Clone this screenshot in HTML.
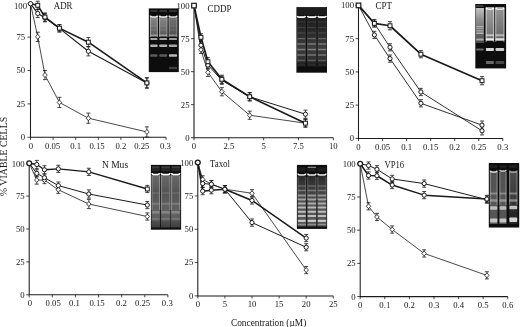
<!DOCTYPE html><html><head><meta charset="utf-8"><style>html,body{margin:0;padding:0;background:#fff;}svg{display:block;}</style></head><body>
<svg width="520" height="327" viewBox="0 0 520 327" font-family='"Liberation Serif", serif' fill="#1a1a1a">
<defs><filter id="bl" x="-5%" y="-5%" width="110%" height="110%"><feGaussianBlur stdDeviation="0.35"/></filter><filter id="gb" x="-5%" y="-5%" width="110%" height="110%"><feGaussianBlur stdDeviation="0.85"/></filter></defs>
<rect width="520" height="327" fill="#fff"/>
<filter id="gf1" x="-10%" y="-10%" width="120%" height="120%"><feGaussianBlur stdDeviation="0.65"/></filter>
<g filter="url(#gf1)">
<rect x="148.8" y="8.4" width="30" height="63.7" fill="#0d0d0d"/>
<linearGradient id="gr1" x1="0" y1="0" x2="0" y2="1"><stop offset="0" stop-color="#fff" stop-opacity="0.5"/><stop offset="0.5" stop-color="#fff" stop-opacity="0.4"/><stop offset="1" stop-color="#fff" stop-opacity="0.3"/></linearGradient>
<rect x="149.9" y="17.5" width="8" height="19.5" fill="url(#gr1)"/>
<rect x="149.9" y="16" width="1.1" height="21" fill="#fff" fill-opacity="0.3"/>
<rect x="156.8" y="16" width="1.1" height="21" fill="#fff" fill-opacity="0.3"/>
<rect x="150.2" y="10.5" width="7.4" height="1" rx="0.8" fill="#fff" fill-opacity="0.3"/>
<rect x="150.2" y="25.25" width="7.4" height="1.5" rx="0.8" fill="#fff" fill-opacity="0.08"/>
<rect x="150.2" y="29.25" width="7.4" height="1.5" rx="0.8" fill="#fff" fill-opacity="0.08"/>
<rect x="150.2" y="34.45" width="7.4" height="1.5" rx="0.8" fill="#fff" fill-opacity="0.4"/>
<rect x="150.2" y="38.1" width="7.4" height="2" rx="0.8" fill="#fff" fill-opacity="0.62"/>
<rect x="150.2" y="44.45" width="7.4" height="2.5" rx="0.8" fill="#fff" fill-opacity="0.68"/>
<rect x="150.2" y="54.35" width="7.4" height="2.5" rx="0.8" fill="#fff" fill-opacity="0.32"/>
<path d="M150.4 15.6Q150.6 17 152.1 17H155.7Q157.2 17 157.4 15.6" fill="none" stroke="#fff" stroke-opacity="0.95" stroke-width="1.7"/>
<linearGradient id="gr2" x1="0" y1="0" x2="0" y2="1"><stop offset="0" stop-color="#fff" stop-opacity="0.5"/><stop offset="0.5" stop-color="#fff" stop-opacity="0.4"/><stop offset="1" stop-color="#fff" stop-opacity="0.3"/></linearGradient>
<rect x="159" y="17.5" width="8.5" height="19.5" fill="url(#gr2)"/>
<rect x="159" y="16" width="1.1" height="21" fill="#fff" fill-opacity="0.3"/>
<rect x="166.4" y="16" width="1.1" height="21" fill="#fff" fill-opacity="0.3"/>
<rect x="159.3" y="10.5" width="7.9" height="1" rx="0.8" fill="#fff" fill-opacity="0.3"/>
<rect x="159.3" y="25.25" width="7.9" height="1.5" rx="0.8" fill="#fff" fill-opacity="0.08"/>
<rect x="159.3" y="29.25" width="7.9" height="1.5" rx="0.8" fill="#fff" fill-opacity="0.08"/>
<rect x="159.3" y="34.45" width="7.9" height="1.5" rx="0.8" fill="#fff" fill-opacity="0.4"/>
<rect x="159.3" y="38.1" width="7.9" height="2" rx="0.8" fill="#fff" fill-opacity="0.62"/>
<rect x="159.3" y="44.45" width="7.9" height="2.5" rx="0.8" fill="#fff" fill-opacity="0.68"/>
<rect x="159.3" y="54.35" width="7.9" height="2.5" rx="0.8" fill="#fff" fill-opacity="0.32"/>
<path d="M159.5 15.6Q159.7 17 161.2 17H165.3Q166.8 17 167 15.6" fill="none" stroke="#fff" stroke-opacity="0.95" stroke-width="1.7"/>
<linearGradient id="gr3" x1="0" y1="0" x2="0" y2="1"><stop offset="0" stop-color="#fff" stop-opacity="0.42"/><stop offset="0.5" stop-color="#fff" stop-opacity="0.34"/><stop offset="1" stop-color="#fff" stop-opacity="0.26"/></linearGradient>
<rect x="168.6" y="17.5" width="8.8" height="19.5" fill="url(#gr3)"/>
<rect x="168.6" y="16" width="1.1" height="21" fill="#fff" fill-opacity="0.26"/>
<rect x="176.3" y="16" width="1.1" height="21" fill="#fff" fill-opacity="0.26"/>
<rect x="168.9" y="10.5" width="8.2" height="1" rx="0.8" fill="#fff" fill-opacity="0.3"/>
<rect x="168.9" y="25.25" width="8.2" height="1.5" rx="0.8" fill="#fff" fill-opacity="0.08"/>
<rect x="168.9" y="29.25" width="8.2" height="1.5" rx="0.8" fill="#fff" fill-opacity="0.08"/>
<rect x="168.9" y="34.45" width="8.2" height="1.5" rx="0.8" fill="#fff" fill-opacity="0.36"/>
<rect x="168.9" y="38.1" width="8.2" height="2" rx="0.8" fill="#fff" fill-opacity="0.58"/>
<rect x="168.9" y="44.45" width="8.2" height="2.5" rx="0.8" fill="#fff" fill-opacity="0.64"/>
<rect x="168.9" y="54.35" width="8.2" height="2.5" rx="0.8" fill="#fff" fill-opacity="0.7"/>
<rect x="168.9" y="66.75" width="8.2" height="2.5" rx="0.8" fill="#fff" fill-opacity="0.2"/>
<path d="M169.1 15.6Q169.3 17 170.8 17H175.2Q176.7 17 176.9 15.6" fill="none" stroke="#fff" stroke-opacity="0.85" stroke-width="1.7"/>
</g>
<filter id="gf2" x="-10%" y="-10%" width="120%" height="120%"><feGaussianBlur stdDeviation="0.6"/></filter>
<g filter="url(#gf2)">
<rect x="296.4" y="7.1" width="30.6" height="65.6" fill="#0d0d0d"/>
<rect x="296.4" y="7.5" width="30.6" height="7.5" fill="#fff" fill-opacity="0.08"/>
<linearGradient id="gr4" x1="0" y1="0" x2="0" y2="1"><stop offset="0" stop-color="#fff" stop-opacity="0.08"/><stop offset="0.3" stop-color="#fff" stop-opacity="0.12"/><stop offset="0.6" stop-color="#fff" stop-opacity="0.2"/><stop offset="0.85" stop-color="#fff" stop-opacity="0.15"/><stop offset="1" stop-color="#fff" stop-opacity="0.04"/></linearGradient>
<rect x="296.8" y="18" width="9" height="49" fill="url(#gr4)"/>
<rect x="296.8" y="18" width="1.1" height="42" fill="#fff" fill-opacity="0.05"/>
<rect x="304.7" y="18" width="1.1" height="42" fill="#fff" fill-opacity="0.05"/>
<rect x="297.1" y="21.5" width="8.4" height="1" rx="0.8" fill="#fff" fill-opacity="0.1"/>
<rect x="297.1" y="27" width="8.4" height="1" rx="0.8" fill="#fff" fill-opacity="0.12"/>
<rect x="297.1" y="32.4" width="8.4" height="1.2" rx="0.8" fill="#fff" fill-opacity="0.18"/>
<rect x="297.1" y="37.95" width="8.4" height="1.3" rx="0.8" fill="#fff" fill-opacity="0.25"/>
<rect x="297.1" y="43.25" width="8.4" height="1.5" rx="0.8" fill="#fff" fill-opacity="0.32"/>
<rect x="297.1" y="48.85" width="8.4" height="1.5" rx="0.8" fill="#fff" fill-opacity="0.35"/>
<rect x="297.1" y="54.25" width="8.4" height="1.5" rx="0.8" fill="#fff" fill-opacity="0.32"/>
<rect x="297.1" y="59.8" width="8.4" height="1.4" rx="0.8" fill="#fff" fill-opacity="0.22"/>
<rect x="297.1" y="64.4" width="8.4" height="1.2" rx="0.8" fill="#fff" fill-opacity="0.1"/>
<path d="M297.3 15.8Q297.5 17.2 299 17.2H303.6Q305.1 17.2 305.3 15.8" fill="none" stroke="#fff" stroke-opacity="1.0" stroke-width="1.7"/>
<linearGradient id="gr5" x1="0" y1="0" x2="0" y2="1"><stop offset="0" stop-color="#fff" stop-opacity="0.08"/><stop offset="0.3" stop-color="#fff" stop-opacity="0.12"/><stop offset="0.6" stop-color="#fff" stop-opacity="0.2"/><stop offset="0.85" stop-color="#fff" stop-opacity="0.15"/><stop offset="1" stop-color="#fff" stop-opacity="0.04"/></linearGradient>
<rect x="307" y="18" width="9.5" height="49" fill="url(#gr5)"/>
<rect x="307" y="18" width="1.1" height="42" fill="#fff" fill-opacity="0.05"/>
<rect x="315.4" y="18" width="1.1" height="42" fill="#fff" fill-opacity="0.05"/>
<rect x="307.3" y="21.5" width="8.9" height="1" rx="0.8" fill="#fff" fill-opacity="0.1"/>
<rect x="307.3" y="27" width="8.9" height="1" rx="0.8" fill="#fff" fill-opacity="0.12"/>
<rect x="307.3" y="32.4" width="8.9" height="1.2" rx="0.8" fill="#fff" fill-opacity="0.18"/>
<rect x="307.3" y="37.95" width="8.9" height="1.3" rx="0.8" fill="#fff" fill-opacity="0.25"/>
<rect x="307.3" y="43.25" width="8.9" height="1.5" rx="0.8" fill="#fff" fill-opacity="0.32"/>
<rect x="307.3" y="48.85" width="8.9" height="1.5" rx="0.8" fill="#fff" fill-opacity="0.35"/>
<rect x="307.3" y="54.25" width="8.9" height="1.5" rx="0.8" fill="#fff" fill-opacity="0.32"/>
<rect x="307.3" y="59.8" width="8.9" height="1.4" rx="0.8" fill="#fff" fill-opacity="0.22"/>
<rect x="307.3" y="64.4" width="8.9" height="1.2" rx="0.8" fill="#fff" fill-opacity="0.1"/>
<path d="M307.5 15.8Q307.7 17.2 309.2 17.2H314.3Q315.8 17.2 316 15.8" fill="none" stroke="#fff" stroke-opacity="1.0" stroke-width="1.7"/>
<linearGradient id="gr6" x1="0" y1="0" x2="0" y2="1"><stop offset="0" stop-color="#fff" stop-opacity="0.08"/><stop offset="0.3" stop-color="#fff" stop-opacity="0.12"/><stop offset="0.6" stop-color="#fff" stop-opacity="0.2"/><stop offset="0.85" stop-color="#fff" stop-opacity="0.15"/><stop offset="1" stop-color="#fff" stop-opacity="0.04"/></linearGradient>
<rect x="317.5" y="18" width="9.1" height="49" fill="url(#gr6)"/>
<rect x="317.5" y="18" width="1.1" height="42" fill="#fff" fill-opacity="0.05"/>
<rect x="325.5" y="18" width="1.1" height="42" fill="#fff" fill-opacity="0.05"/>
<rect x="317.8" y="21.5" width="8.5" height="1" rx="0.8" fill="#fff" fill-opacity="0.1"/>
<rect x="317.8" y="27" width="8.5" height="1" rx="0.8" fill="#fff" fill-opacity="0.12"/>
<rect x="317.8" y="32.4" width="8.5" height="1.2" rx="0.8" fill="#fff" fill-opacity="0.18"/>
<rect x="317.8" y="37.95" width="8.5" height="1.3" rx="0.8" fill="#fff" fill-opacity="0.25"/>
<rect x="317.8" y="43.25" width="8.5" height="1.5" rx="0.8" fill="#fff" fill-opacity="0.32"/>
<rect x="317.8" y="48.85" width="8.5" height="1.5" rx="0.8" fill="#fff" fill-opacity="0.35"/>
<rect x="317.8" y="54.25" width="8.5" height="1.5" rx="0.8" fill="#fff" fill-opacity="0.32"/>
<rect x="317.8" y="59.8" width="8.5" height="1.4" rx="0.8" fill="#fff" fill-opacity="0.22"/>
<rect x="317.8" y="64.4" width="8.5" height="1.2" rx="0.8" fill="#fff" fill-opacity="0.1"/>
<path d="M318 15.8Q318.2 17.2 319.7 17.2H324.4Q325.9 17.2 326.1 15.8" fill="none" stroke="#fff" stroke-opacity="1.0" stroke-width="1.7"/>
</g>
<filter id="gf3" x="-10%" y="-10%" width="120%" height="120%"><feGaussianBlur stdDeviation="0.75"/></filter>
<g filter="url(#gf3)">
<rect x="475.3" y="4" width="30.8" height="64.4" fill="#0d0d0d"/>
<linearGradient id="gr7" x1="0" y1="0" x2="0" y2="1"><stop offset="0" stop-color="#fff" stop-opacity="0.75"/><stop offset="0.3" stop-color="#fff" stop-opacity="0.55"/><stop offset="0.7" stop-color="#fff" stop-opacity="0.38"/><stop offset="1" stop-color="#fff" stop-opacity="0.25"/></linearGradient>
<rect x="475.8" y="8" width="8.2" height="35" fill="url(#gr7)"/>
<rect x="476.1" y="5.5" width="7.6" height="1" rx="0.8" fill="#fff" fill-opacity="0.4"/>
<rect x="476.1" y="25.9" width="7.6" height="1" rx="0.8" fill="#fff" fill-opacity="0.4"/>
<rect x="476.1" y="27.7" width="7.6" height="1" rx="0.8" fill="#fff" fill-opacity="0.4"/>
<rect x="476.1" y="30.2" width="7.6" height="1.2" rx="0.8" fill="#fff" fill-opacity="0.45"/>
<rect x="476.1" y="32.5" width="7.6" height="1.4" rx="0.8" fill="#fff" fill-opacity="0.5"/>
<rect x="476.1" y="38.6" width="7.6" height="2" rx="0.8" fill="#fff" fill-opacity="0.5"/>
<rect x="476.1" y="48.4" width="7.6" height="2.2" rx="0.8" fill="#fff" fill-opacity="0.38"/>
<linearGradient id="gr8" x1="0" y1="0" x2="0" y2="1"><stop offset="0" stop-color="#fff" stop-opacity="0.6"/><stop offset="1" stop-color="#fff" stop-opacity="0.4"/></linearGradient>
<rect x="485.6" y="9" width="8.6" height="31" fill="url(#gr8)"/>
<rect x="485.6" y="8" width="1.1" height="34" fill="#fff" fill-opacity="0.5"/>
<rect x="493.1" y="8" width="1.1" height="34" fill="#fff" fill-opacity="0.5"/>
<rect x="485.9" y="6.9" width="8" height="1.2" rx="0.8" fill="#fff" fill-opacity="0.6"/>
<rect x="485.9" y="34.2" width="8" height="2" rx="0.8" fill="#fff" fill-opacity="0.55"/>
<rect x="485.9" y="38.35" width="8" height="2.5" rx="0.8" fill="#fff" fill-opacity="0.85"/>
<rect x="485.9" y="47.9" width="8" height="3.2" rx="0.8" fill="#fff" fill-opacity="0.85"/>
<rect x="485.9" y="61.1" width="8" height="3" rx="0.8" fill="#fff" fill-opacity="0.38"/>
<path d="M486.1 7.6Q486.3 9 487.8 9H492Q493.5 9 493.7 7.6" fill="none" stroke="#fff" stroke-opacity="1.0" stroke-width="1.7"/>
<linearGradient id="gr9" x1="0" y1="0" x2="0" y2="1"><stop offset="0" stop-color="#fff" stop-opacity="0.55"/><stop offset="1" stop-color="#fff" stop-opacity="0.36"/></linearGradient>
<rect x="495.2" y="9" width="9.3" height="31" fill="url(#gr9)"/>
<rect x="495.2" y="8" width="1.1" height="34" fill="#fff" fill-opacity="0.45"/>
<rect x="503.4" y="8" width="1.1" height="34" fill="#fff" fill-opacity="0.45"/>
<rect x="495.5" y="6.9" width="8.7" height="1.2" rx="0.8" fill="#fff" fill-opacity="0.6"/>
<rect x="495.5" y="34.2" width="8.7" height="2" rx="0.8" fill="#fff" fill-opacity="0.5"/>
<rect x="495.5" y="38.35" width="8.7" height="2.5" rx="0.8" fill="#fff" fill-opacity="0.8"/>
<rect x="495.5" y="47.9" width="8.7" height="3.2" rx="0.8" fill="#fff" fill-opacity="0.8"/>
<rect x="495.5" y="61.1" width="8.7" height="3" rx="0.8" fill="#fff" fill-opacity="0.24"/>
<path d="M495.7 7.6Q495.9 9 497.4 9H502.3Q503.8 9 504 7.6" fill="none" stroke="#fff" stroke-opacity="0.95" stroke-width="1.7"/>
</g>
<filter id="gf4" x="-10%" y="-10%" width="120%" height="120%"><feGaussianBlur stdDeviation="0.6"/></filter>
<g filter="url(#gf4)">
<rect x="150.9" y="164.9" width="30.2" height="64.8" fill="#0d0d0d"/>
<linearGradient id="gr10" x1="0" y1="0" x2="0" y2="1"><stop offset="0" stop-color="#fff" stop-opacity="0.38"/><stop offset="0.3" stop-color="#fff" stop-opacity="0.3"/><stop offset="0.55" stop-color="#fff" stop-opacity="0.33"/><stop offset="0.75" stop-color="#fff" stop-opacity="0.36"/><stop offset="1" stop-color="#fff" stop-opacity="0.2"/></linearGradient>
<rect x="151.5" y="175.5" width="8.5" height="52" fill="url(#gr10)"/>
<rect x="151.5" y="175" width="1.1" height="35" fill="#fff" fill-opacity="0.28"/>
<rect x="158.9" y="175" width="1.1" height="35" fill="#fff" fill-opacity="0.28"/>
<rect x="151.8" y="166.5" width="7.9" height="1" rx="0.8" fill="#fff" fill-opacity="0.3"/>
<rect x="151.8" y="167.5" width="7.9" height="4" rx="0.8" fill="#fff" fill-opacity="0.1"/>
<rect x="151.8" y="192.25" width="7.9" height="1.5" rx="0.8" fill="#fff" fill-opacity="0.12"/>
<rect x="151.8" y="202.7" width="7.9" height="2" rx="0.8" fill="#fff" fill-opacity="0.18"/>
<rect x="151.8" y="210.95" width="7.9" height="2.5" rx="0.8" fill="#fff" fill-opacity="0.22"/>
<rect x="151.8" y="217.75" width="7.9" height="2.5" rx="0.8" fill="#fff" fill-opacity="0.16"/>
<path d="M152 173.2Q152.2 174.6 153.7 174.6H157.8Q159.3 174.6 159.5 173.2" fill="none" stroke="#fff" stroke-opacity="1.0" stroke-width="1.7"/>
<linearGradient id="gr11" x1="0" y1="0" x2="0" y2="1"><stop offset="0" stop-color="#fff" stop-opacity="0.38"/><stop offset="0.3" stop-color="#fff" stop-opacity="0.3"/><stop offset="0.55" stop-color="#fff" stop-opacity="0.33"/><stop offset="0.75" stop-color="#fff" stop-opacity="0.36"/><stop offset="1" stop-color="#fff" stop-opacity="0.2"/></linearGradient>
<rect x="160.8" y="175.5" width="9.7" height="52" fill="url(#gr11)"/>
<rect x="160.8" y="175" width="1.1" height="35" fill="#fff" fill-opacity="0.28"/>
<rect x="169.4" y="175" width="1.1" height="35" fill="#fff" fill-opacity="0.28"/>
<rect x="161.1" y="166.5" width="9.1" height="1" rx="0.8" fill="#fff" fill-opacity="0.3"/>
<rect x="161.1" y="167.5" width="9.1" height="4" rx="0.8" fill="#fff" fill-opacity="0.1"/>
<rect x="161.1" y="192.25" width="9.1" height="1.5" rx="0.8" fill="#fff" fill-opacity="0.12"/>
<rect x="161.1" y="202.7" width="9.1" height="2" rx="0.8" fill="#fff" fill-opacity="0.18"/>
<rect x="161.1" y="210.95" width="9.1" height="2.5" rx="0.8" fill="#fff" fill-opacity="0.22"/>
<rect x="161.1" y="217.75" width="9.1" height="2.5" rx="0.8" fill="#fff" fill-opacity="0.16"/>
<path d="M161.3 173.2Q161.5 174.6 163 174.6H168.3Q169.8 174.6 170 173.2" fill="none" stroke="#fff" stroke-opacity="1.0" stroke-width="1.7"/>
<linearGradient id="gr12" x1="0" y1="0" x2="0" y2="1"><stop offset="0" stop-color="#fff" stop-opacity="0.38"/><stop offset="0.3" stop-color="#fff" stop-opacity="0.3"/><stop offset="0.55" stop-color="#fff" stop-opacity="0.33"/><stop offset="0.75" stop-color="#fff" stop-opacity="0.36"/><stop offset="1" stop-color="#fff" stop-opacity="0.2"/></linearGradient>
<rect x="171" y="175.5" width="9.3" height="52" fill="url(#gr12)"/>
<rect x="171" y="175" width="1.1" height="35" fill="#fff" fill-opacity="0.28"/>
<rect x="179.2" y="175" width="1.1" height="35" fill="#fff" fill-opacity="0.28"/>
<rect x="171.3" y="166.5" width="8.7" height="1" rx="0.8" fill="#fff" fill-opacity="0.3"/>
<rect x="171.3" y="167.5" width="8.7" height="4" rx="0.8" fill="#fff" fill-opacity="0.1"/>
<rect x="171.3" y="192.25" width="8.7" height="1.5" rx="0.8" fill="#fff" fill-opacity="0.12"/>
<rect x="171.3" y="202.7" width="8.7" height="2" rx="0.8" fill="#fff" fill-opacity="0.18"/>
<rect x="171.3" y="210.95" width="8.7" height="2.5" rx="0.8" fill="#fff" fill-opacity="0.22"/>
<rect x="171.3" y="217.75" width="8.7" height="2.5" rx="0.8" fill="#fff" fill-opacity="0.16"/>
<path d="M171.5 173.2Q171.7 174.6 173.2 174.6H178.1Q179.6 174.6 179.8 173.2" fill="none" stroke="#fff" stroke-opacity="1.0" stroke-width="1.7"/>
</g>
<filter id="gf5" x="-10%" y="-10%" width="120%" height="120%"><feGaussianBlur stdDeviation="0.55"/></filter>
<g filter="url(#gf5)">
<rect x="296.9" y="164.9" width="30.2" height="64" fill="#0d0d0d"/>
<linearGradient id="gr13" x1="0" y1="0" x2="0" y2="1"><stop offset="0" stop-color="#fff" stop-opacity="0.12"/><stop offset="0.25" stop-color="#fff" stop-opacity="0.2"/><stop offset="0.6" stop-color="#fff" stop-opacity="0.3"/><stop offset="1" stop-color="#fff" stop-opacity="0.3"/></linearGradient>
<rect x="297.5" y="176" width="8.7" height="50.5" fill="url(#gr13)"/>
<rect x="297.5" y="177" width="1.1" height="23" fill="#fff" fill-opacity="0.18"/>
<rect x="305.1" y="177" width="1.1" height="23" fill="#fff" fill-opacity="0.18"/>
<rect x="297.8" y="167.5" width="8.1" height="4" rx="0.8" fill="#fff" fill-opacity="0.08"/>
<rect x="297.8" y="185.25" width="8.1" height="1.5" rx="0.8" fill="#fff" fill-opacity="0.22"/>
<rect x="297.8" y="189.75" width="8.1" height="1.5" rx="0.8" fill="#fff" fill-opacity="0.3"/>
<rect x="297.8" y="194.6" width="8.1" height="1.8" rx="0.8" fill="#fff" fill-opacity="0.42"/>
<rect x="297.8" y="198.6" width="8.1" height="1.8" rx="0.8" fill="#fff" fill-opacity="0.48"/>
<rect x="297.8" y="202.6" width="8.1" height="1.8" rx="0.8" fill="#fff" fill-opacity="0.52"/>
<rect x="297.8" y="206.5" width="8.1" height="2" rx="0.8" fill="#fff" fill-opacity="0.58"/>
<rect x="297.8" y="210.7" width="8.1" height="2" rx="0.8" fill="#fff" fill-opacity="0.62"/>
<rect x="297.8" y="215" width="8.1" height="2" rx="0.8" fill="#fff" fill-opacity="0.62"/>
<rect x="297.8" y="219.7" width="8.1" height="2.2" rx="0.8" fill="#fff" fill-opacity="0.66"/>
<rect x="297.8" y="223.85" width="8.1" height="1.5" rx="0.8" fill="#fff" fill-opacity="0.35"/>
<path d="M298 173.6Q298.2 175 299.7 175H304Q305.5 175 305.7 173.6" fill="none" stroke="#fff" stroke-opacity="0.95" stroke-width="1.7"/>
<linearGradient id="gr14" x1="0" y1="0" x2="0" y2="1"><stop offset="0" stop-color="#fff" stop-opacity="0.12"/><stop offset="0.25" stop-color="#fff" stop-opacity="0.2"/><stop offset="0.6" stop-color="#fff" stop-opacity="0.3"/><stop offset="1" stop-color="#fff" stop-opacity="0.3"/></linearGradient>
<rect x="307.2" y="176" width="9.3" height="50.5" fill="url(#gr14)"/>
<rect x="307.2" y="177" width="1.1" height="23" fill="#fff" fill-opacity="0.18"/>
<rect x="315.4" y="177" width="1.1" height="23" fill="#fff" fill-opacity="0.18"/>
<rect x="307.5" y="167.5" width="8.7" height="4" rx="0.8" fill="#fff" fill-opacity="0.08"/>
<rect x="307.5" y="185.25" width="8.7" height="1.5" rx="0.8" fill="#fff" fill-opacity="0.22"/>
<rect x="307.5" y="189.75" width="8.7" height="1.5" rx="0.8" fill="#fff" fill-opacity="0.3"/>
<rect x="307.5" y="194.6" width="8.7" height="1.8" rx="0.8" fill="#fff" fill-opacity="0.42"/>
<rect x="307.5" y="198.6" width="8.7" height="1.8" rx="0.8" fill="#fff" fill-opacity="0.48"/>
<rect x="307.5" y="202.6" width="8.7" height="1.8" rx="0.8" fill="#fff" fill-opacity="0.52"/>
<rect x="307.5" y="206.5" width="8.7" height="2" rx="0.8" fill="#fff" fill-opacity="0.58"/>
<rect x="307.5" y="210.7" width="8.7" height="2" rx="0.8" fill="#fff" fill-opacity="0.62"/>
<rect x="307.5" y="215" width="8.7" height="2" rx="0.8" fill="#fff" fill-opacity="0.62"/>
<rect x="307.5" y="219.7" width="8.7" height="2.2" rx="0.8" fill="#fff" fill-opacity="0.66"/>
<rect x="307.5" y="223.85" width="8.7" height="1.5" rx="0.8" fill="#fff" fill-opacity="0.35"/>
<rect x="307.5" y="166.7" width="8.7" height="1" rx="0.8" fill="#fff" fill-opacity="0.6"/>
<path d="M307.7 173.6Q307.9 175 309.4 175H314.3Q315.8 175 316 173.6" fill="none" stroke="#fff" stroke-opacity="0.95" stroke-width="1.7"/>
<linearGradient id="gr15" x1="0" y1="0" x2="0" y2="1"><stop offset="0" stop-color="#fff" stop-opacity="0.12"/><stop offset="0.25" stop-color="#fff" stop-opacity="0.2"/><stop offset="0.6" stop-color="#fff" stop-opacity="0.3"/><stop offset="1" stop-color="#fff" stop-opacity="0.3"/></linearGradient>
<rect x="317.3" y="176" width="9.2" height="50.5" fill="url(#gr15)"/>
<rect x="317.3" y="177" width="1.1" height="23" fill="#fff" fill-opacity="0.18"/>
<rect x="325.4" y="177" width="1.1" height="23" fill="#fff" fill-opacity="0.18"/>
<rect x="317.6" y="167.5" width="8.6" height="4" rx="0.8" fill="#fff" fill-opacity="0.08"/>
<rect x="317.6" y="185.25" width="8.6" height="1.5" rx="0.8" fill="#fff" fill-opacity="0.22"/>
<rect x="317.6" y="189.75" width="8.6" height="1.5" rx="0.8" fill="#fff" fill-opacity="0.3"/>
<rect x="317.6" y="194.6" width="8.6" height="1.8" rx="0.8" fill="#fff" fill-opacity="0.42"/>
<rect x="317.6" y="198.6" width="8.6" height="1.8" rx="0.8" fill="#fff" fill-opacity="0.48"/>
<rect x="317.6" y="202.6" width="8.6" height="1.8" rx="0.8" fill="#fff" fill-opacity="0.52"/>
<rect x="317.6" y="206.5" width="8.6" height="2" rx="0.8" fill="#fff" fill-opacity="0.58"/>
<rect x="317.6" y="210.7" width="8.6" height="2" rx="0.8" fill="#fff" fill-opacity="0.62"/>
<rect x="317.6" y="215" width="8.6" height="2" rx="0.8" fill="#fff" fill-opacity="0.62"/>
<rect x="317.6" y="219.7" width="8.6" height="2.2" rx="0.8" fill="#fff" fill-opacity="0.66"/>
<rect x="317.6" y="223.85" width="8.6" height="1.5" rx="0.8" fill="#fff" fill-opacity="0.35"/>
<path d="M317.8 173.6Q318 175 319.5 175H324.3Q325.8 175 326 173.6" fill="none" stroke="#fff" stroke-opacity="0.95" stroke-width="1.7"/>
</g>
<filter id="gf6" x="-10%" y="-10%" width="120%" height="120%"><feGaussianBlur stdDeviation="0.65"/></filter>
<g filter="url(#gf6)">
<rect x="488.8" y="163" width="30.4" height="64.5" fill="#0d0d0d"/>
<linearGradient id="gr16" x1="0" y1="0" x2="0" y2="1"><stop offset="0" stop-color="#fff" stop-opacity="0.28"/><stop offset="0.5" stop-color="#fff" stop-opacity="0.3"/><stop offset="1" stop-color="#fff" stop-opacity="0.3"/></linearGradient>
<rect x="489.8" y="172" width="7.8" height="52" fill="url(#gr16)"/>
<rect x="489.8" y="172" width="1.1" height="33" fill="#fff" fill-opacity="0.3"/>
<rect x="496.5" y="172" width="1.1" height="33" fill="#fff" fill-opacity="0.3"/>
<rect x="490.1" y="165" width="7.2" height="3" rx="0.8" fill="#fff" fill-opacity="0.08"/>
<rect x="490.1" y="192.5" width="7.2" height="2" rx="0.8" fill="#fff" fill-opacity="0.3"/>
<rect x="490.1" y="199.25" width="7.2" height="2.5" rx="0.8" fill="#fff" fill-opacity="0.35"/>
<rect x="490.1" y="206.25" width="7.2" height="3.5" rx="0.8" fill="#fff" fill-opacity="0.6"/>
<rect x="490.1" y="218.5" width="7.2" height="4" rx="0.8" fill="#fff" fill-opacity="0.65"/>
<path d="M490.3 170.6Q490.5 172 492 172H495.4Q496.9 172 497.1 170.6" fill="none" stroke="#fff" stroke-opacity="0.85" stroke-width="1.7"/>
<linearGradient id="gr17" x1="0" y1="0" x2="0" y2="1"><stop offset="0" stop-color="#fff" stop-opacity="0.28"/><stop offset="0.5" stop-color="#fff" stop-opacity="0.3"/><stop offset="1" stop-color="#fff" stop-opacity="0.3"/></linearGradient>
<rect x="499.3" y="172" width="7.3" height="52" fill="url(#gr17)"/>
<rect x="499.3" y="172" width="1.1" height="33" fill="#fff" fill-opacity="0.3"/>
<rect x="505.5" y="172" width="1.1" height="33" fill="#fff" fill-opacity="0.3"/>
<rect x="499.6" y="165" width="6.7" height="3" rx="0.8" fill="#fff" fill-opacity="0.08"/>
<rect x="499.6" y="192.5" width="6.7" height="2" rx="0.8" fill="#fff" fill-opacity="0.3"/>
<rect x="499.6" y="199.25" width="6.7" height="2.5" rx="0.8" fill="#fff" fill-opacity="0.35"/>
<rect x="499.6" y="206.25" width="6.7" height="3.5" rx="0.8" fill="#fff" fill-opacity="0.6"/>
<rect x="499.6" y="218.5" width="6.7" height="4" rx="0.8" fill="#fff" fill-opacity="0.65"/>
<path d="M499.8 169.8Q500 171.2 501.5 171.2H504.4Q505.9 171.2 506.1 169.8" fill="none" stroke="#fff" stroke-opacity="0.7" stroke-width="1.7"/>
<linearGradient id="gr18" x1="0" y1="0" x2="0" y2="1"><stop offset="0" stop-color="#fff" stop-opacity="0.25"/><stop offset="0.5" stop-color="#fff" stop-opacity="0.2"/><stop offset="0.7" stop-color="#fff" stop-opacity="0.12"/><stop offset="1" stop-color="#fff" stop-opacity="0.1"/></linearGradient>
<rect x="509.1" y="172" width="8.4" height="52" fill="url(#gr18)"/>
<rect x="509.1" y="172" width="1.1" height="33" fill="#fff" fill-opacity="0.3"/>
<rect x="516.4" y="172" width="1.1" height="33" fill="#fff" fill-opacity="0.3"/>
<rect x="509.4" y="165" width="7.8" height="3" rx="0.8" fill="#fff" fill-opacity="0.08"/>
<rect x="509.4" y="192.5" width="7.8" height="2" rx="0.8" fill="#fff" fill-opacity="0.35"/>
<rect x="509.4" y="199.25" width="7.8" height="2.5" rx="0.8" fill="#fff" fill-opacity="0.4"/>
<rect x="509.4" y="205.75" width="7.8" height="3.5" rx="0.8" fill="#fff" fill-opacity="0.7"/>
<rect x="509.4" y="217.55" width="7.8" height="4.5" rx="0.8" fill="#fff" fill-opacity="0.8"/>
<path d="M509.6 170.6Q509.8 172 511.3 172H515.3Q516.8 172 517 170.6" fill="none" stroke="#fff" stroke-opacity="0.6" stroke-width="1.7"/>
</g>
<g filter="url(#bl)">
<path d="M30.5 3.7V137.3H166.1" fill="none" stroke="#1a1a1a" stroke-width="1.05"/>
<path d="M27.5 137.3H30.5" stroke="#1a1a1a" stroke-width="0.8"/>
<text x="25.2" y="140.2" text-anchor="end" font-size="8.7">0</text>
<path d="M27.5 103.9H30.5" stroke="#1a1a1a" stroke-width="0.8"/>
<text x="25.2" y="106.8" text-anchor="end" font-size="8.7">25</text>
<path d="M27.5 70.5H30.5" stroke="#1a1a1a" stroke-width="0.8"/>
<text x="25.2" y="73.4" text-anchor="end" font-size="8.7">50</text>
<path d="M27.5 37.1H30.5" stroke="#1a1a1a" stroke-width="0.8"/>
<text x="25.2" y="40" text-anchor="end" font-size="8.7">75</text>
<path d="M27.5 3.7H30.5" stroke="#1a1a1a" stroke-width="0.8"/>
<text x="27" y="9.2" text-anchor="end" font-size="8.7">100</text>
<path d="M30.5 137.3V139.9" stroke="#1a1a1a" stroke-width="0.8"/>
<text x="30.9" y="148.8" text-anchor="middle" font-size="8.7">0</text>
<path d="M53.1 137.3V139.9" stroke="#1a1a1a" stroke-width="0.8"/>
<text x="52.5" y="148.8" text-anchor="middle" font-size="8.7">0.05</text>
<path d="M75.7 137.3V139.9" stroke="#1a1a1a" stroke-width="0.8"/>
<text x="75.6" y="148.8" text-anchor="middle" font-size="8.7">0.1</text>
<path d="M98.3 137.3V139.9" stroke="#1a1a1a" stroke-width="0.8"/>
<text x="97" y="148.8" text-anchor="middle" font-size="8.7">0.15</text>
<path d="M120.9 137.3V139.9" stroke="#1a1a1a" stroke-width="0.8"/>
<text x="120.9" y="148.8" text-anchor="middle" font-size="8.7">0.2</text>
<path d="M143.5 137.3V139.9" stroke="#1a1a1a" stroke-width="0.8"/>
<text x="141.8" y="148.8" text-anchor="middle" font-size="8.7">0.25</text>
<path d="M166.1 137.3V139.9" stroke="#1a1a1a" stroke-width="0.8"/>
<text x="165.5" y="148.8" text-anchor="middle" font-size="8.7">0.3</text>
<text x="53.8" y="9" font-size="9.3" textLength="18.6" lengthAdjust="spacingAndGlyphs">ADR</text>
<path d="M30.5 3.7 L37.73 36.83 L44.96 75.04 L59.43 102.43 L88.36 118.2 L146.89 131.96" fill="none" stroke="#1a1a1a" stroke-width="0.8" stroke-linejoin="round"/>
<path d="M30.5 3.7 L37.73 13.45 L44.96 17.73 L59.43 28.42 L88.36 51.26 L146.89 82.92" fill="none" stroke="#1a1a1a" stroke-width="1.1" stroke-linejoin="round"/>
<path d="M30.5 3.7 L37.73 5.3 L44.96 17.06 L59.43 28.15 L88.36 42.18 L146.89 82.92" fill="none" stroke="#1a1a1a" stroke-width="1.6" stroke-linejoin="round"/>
<path d="M37.73 32.23V41.43M35.73 32.23H39.73M35.73 41.43H39.73" stroke="#1a1a1a" stroke-width="0.8" fill="none"/>
<path d="M44.96 70.44V79.64M42.96 70.44H46.96M42.96 79.64H46.96" stroke="#1a1a1a" stroke-width="0.8" fill="none"/>
<path d="M59.43 97.33V107.53M57.43 97.33H61.43M57.43 107.53H61.43" stroke="#1a1a1a" stroke-width="0.8" fill="none"/>
<path d="M88.36 113.1V123.3M86.36 113.1H90.36M86.36 123.3H90.36" stroke="#1a1a1a" stroke-width="0.8" fill="none"/>
<path d="M146.89 126.86V137.06M144.89 126.86H148.89M144.89 137.06H148.89" stroke="#1a1a1a" stroke-width="0.8" fill="none"/>
<path d="M37.73 9.35V17.55M35.73 9.35H39.73M35.73 17.55H39.73" stroke="#1a1a1a" stroke-width="0.8" fill="none"/>
<path d="M44.96 13.63V21.83M42.96 13.63H46.96M42.96 21.83H46.96" stroke="#1a1a1a" stroke-width="0.8" fill="none"/>
<path d="M59.43 24.82V32.02M57.43 24.82H61.43M57.43 32.02H61.43" stroke="#1a1a1a" stroke-width="0.8" fill="none"/>
<path d="M88.36 46.66V55.86M86.36 46.66H90.36M86.36 55.86H90.36" stroke="#1a1a1a" stroke-width="0.8" fill="none"/>
<path d="M146.89 77.82V88.02M144.89 77.82H148.89M144.89 88.02H148.89" stroke="#1a1a1a" stroke-width="0.8" fill="none"/>
<path d="M37.73 1.2V9.4M35.73 1.2H39.73M35.73 9.4H39.73" stroke="#1a1a1a" stroke-width="0.8" fill="none"/>
<path d="M44.96 12.96V21.16M42.96 12.96H46.96M42.96 21.16H46.96" stroke="#1a1a1a" stroke-width="0.8" fill="none"/>
<path d="M59.43 24.55V31.75M57.43 24.55H61.43M57.43 31.75H61.43" stroke="#1a1a1a" stroke-width="0.8" fill="none"/>
<path d="M88.36 37.58V46.78M86.36 37.58H90.36M86.36 46.78H90.36" stroke="#1a1a1a" stroke-width="0.8" fill="none"/>
<path d="M146.89 77.82V88.02M144.89 77.82H148.89M144.89 88.02H148.89" stroke="#1a1a1a" stroke-width="0.8" fill="none"/>
<path d="M37.73 34.33L39.98 36.83L37.73 39.33L35.48 36.83Z" fill="#fff" stroke="#1a1a1a" stroke-width="0.8"/>
<path d="M44.96 72.54L47.21 75.04L44.96 77.54L42.71 75.04Z" fill="#fff" stroke="#1a1a1a" stroke-width="0.8"/>
<path d="M59.43 99.93L61.68 102.43L59.43 104.93L57.18 102.43Z" fill="#fff" stroke="#1a1a1a" stroke-width="0.8"/>
<path d="M88.36 115.7L90.61 118.2L88.36 120.7L86.11 118.2Z" fill="#fff" stroke="#1a1a1a" stroke-width="0.8"/>
<path d="M146.89 129.46L149.14 131.96L146.89 134.46L144.64 131.96Z" fill="#fff" stroke="#1a1a1a" stroke-width="0.8"/>
<circle cx="37.73" cy="13.45" r="2.1" fill="#fff" stroke="#1a1a1a" stroke-width="1.0"/>
<circle cx="44.96" cy="17.73" r="2.1" fill="#fff" stroke="#1a1a1a" stroke-width="1.0"/>
<circle cx="59.43" cy="28.42" r="2.1" fill="#fff" stroke="#1a1a1a" stroke-width="1.0"/>
<circle cx="88.36" cy="51.26" r="2.1" fill="#fff" stroke="#1a1a1a" stroke-width="1.0"/>
<circle cx="146.89" cy="82.92" r="2.1" fill="#fff" stroke="#1a1a1a" stroke-width="1.0"/>
<rect x="35.78" y="3.35" width="3.9" height="3.9" fill="#fff" stroke="#1a1a1a" stroke-width="1.0"/>
<rect x="43.01" y="15.11" width="3.9" height="3.9" fill="#fff" stroke="#1a1a1a" stroke-width="1.0"/>
<rect x="57.48" y="26.2" width="3.9" height="3.9" fill="#fff" stroke="#1a1a1a" stroke-width="1.0"/>
<rect x="86.41" y="40.23" width="3.9" height="3.9" fill="#fff" stroke="#1a1a1a" stroke-width="1.0"/>
<rect x="144.94" y="80.97" width="3.9" height="3.9" fill="#fff" stroke="#1a1a1a" stroke-width="1.0"/>
<circle cx="30.5" cy="3.7" r="2.2" fill="#fff" stroke="#1a1a1a" stroke-width="1.0"/>
<path d="M194 5.6V137.7H333.3" fill="none" stroke="#1a1a1a" stroke-width="1.05"/>
<path d="M191 137.7H194" stroke="#1a1a1a" stroke-width="0.8"/>
<text x="189.5" y="140.6" text-anchor="end" font-size="8.7">0</text>
<path d="M191 104.67H194" stroke="#1a1a1a" stroke-width="0.8"/>
<text x="189.5" y="107.57" text-anchor="end" font-size="8.7">25</text>
<path d="M191 71.65H194" stroke="#1a1a1a" stroke-width="0.8"/>
<text x="189.5" y="74.55" text-anchor="end" font-size="8.7">50</text>
<path d="M191 38.62H194" stroke="#1a1a1a" stroke-width="0.8"/>
<text x="189.5" y="41.52" text-anchor="end" font-size="8.7">75</text>
<path d="M191 5.6H194" stroke="#1a1a1a" stroke-width="0.8"/>
<text x="189.5" y="8.5" text-anchor="end" font-size="8.7">100</text>
<path d="M194 137.7V140.3" stroke="#1a1a1a" stroke-width="0.8"/>
<text x="194" y="149.2" text-anchor="middle" font-size="8.7">0</text>
<path d="M228.82 137.7V140.3" stroke="#1a1a1a" stroke-width="0.8"/>
<text x="228.82" y="149.2" text-anchor="middle" font-size="8.7">2.5</text>
<path d="M263.65 137.7V140.3" stroke="#1a1a1a" stroke-width="0.8"/>
<text x="263.65" y="149.2" text-anchor="middle" font-size="8.7">5</text>
<path d="M298.48 137.7V140.3" stroke="#1a1a1a" stroke-width="0.8"/>
<text x="298.48" y="149.2" text-anchor="middle" font-size="8.7">7.5</text>
<path d="M333.3 137.7V140.3" stroke="#1a1a1a" stroke-width="0.8"/>
<text x="333.3" y="149.2" text-anchor="middle" font-size="8.7">10</text>
<text x="207.6" y="11.7" font-size="9.3" textLength="24" lengthAdjust="spacingAndGlyphs">CDDP</text>
<path d="M194 5.6 L200.97 49.85 L207.93 72.31 L221.86 91.73 L249.72 115.24 L305.44 123.17" fill="none" stroke="#1a1a1a" stroke-width="0.8" stroke-linejoin="round"/>
<path d="M194 5.6 L200.97 45.23 L207.93 65.04 L221.86 80.24 L249.72 96.75 L305.44 114.19" fill="none" stroke="#1a1a1a" stroke-width="1.0" stroke-linejoin="round"/>
<path d="M194 5.6 L200.97 37.3 L207.93 61.74 L221.86 79.31 L249.72 96.75 L305.44 123.17" fill="none" stroke="#1a1a1a" stroke-width="1.7" stroke-linejoin="round"/>
<path d="M200.97 46.25V53.45M198.97 46.25H202.97M198.97 53.45H202.97" stroke="#1a1a1a" stroke-width="0.8" fill="none"/>
<path d="M207.93 68.21V76.41M205.93 68.21H209.93M205.93 76.41H209.93" stroke="#1a1a1a" stroke-width="0.8" fill="none"/>
<path d="M221.86 87.63V95.83M219.86 87.63H223.86M219.86 95.83H223.86" stroke="#1a1a1a" stroke-width="0.8" fill="none"/>
<path d="M249.72 111.14V119.34M247.72 111.14H251.72M247.72 119.34H251.72" stroke="#1a1a1a" stroke-width="0.8" fill="none"/>
<path d="M305.44 119.57V126.77M303.44 119.57H307.44M303.44 126.77H307.44" stroke="#1a1a1a" stroke-width="0.8" fill="none"/>
<path d="M200.97 41.63V48.83M198.97 41.63H202.97M198.97 48.83H202.97" stroke="#1a1a1a" stroke-width="0.8" fill="none"/>
<path d="M207.93 60.94V69.14M205.93 60.94H209.93M205.93 69.14H209.93" stroke="#1a1a1a" stroke-width="0.8" fill="none"/>
<path d="M221.86 76.14V84.34M219.86 76.14H223.86M219.86 84.34H223.86" stroke="#1a1a1a" stroke-width="0.8" fill="none"/>
<path d="M249.72 92.65V100.85M247.72 92.65H251.72M247.72 100.85H251.72" stroke="#1a1a1a" stroke-width="0.8" fill="none"/>
<path d="M305.44 110.09V118.29M303.44 110.09H307.44M303.44 118.29H307.44" stroke="#1a1a1a" stroke-width="0.8" fill="none"/>
<path d="M200.97 33.7V40.9M198.97 33.7H202.97M198.97 40.9H202.97" stroke="#1a1a1a" stroke-width="0.8" fill="none"/>
<path d="M207.93 57.64V65.84M205.93 57.64H209.93M205.93 65.84H209.93" stroke="#1a1a1a" stroke-width="0.8" fill="none"/>
<path d="M221.86 75.21V83.41M219.86 75.21H223.86M219.86 83.41H223.86" stroke="#1a1a1a" stroke-width="0.8" fill="none"/>
<path d="M249.72 92.65V100.85M247.72 92.65H251.72M247.72 100.85H251.72" stroke="#1a1a1a" stroke-width="0.8" fill="none"/>
<path d="M305.44 119.07V127.27M303.44 119.07H307.44M303.44 127.27H307.44" stroke="#1a1a1a" stroke-width="0.8" fill="none"/>
<path d="M200.97 47.35L203.22 49.85L200.97 52.35L198.72 49.85Z" fill="#fff" stroke="#1a1a1a" stroke-width="0.8"/>
<path d="M207.93 69.81L210.18 72.31L207.93 74.81L205.68 72.31Z" fill="#fff" stroke="#1a1a1a" stroke-width="0.8"/>
<path d="M221.86 89.23L224.11 91.73L221.86 94.23L219.61 91.73Z" fill="#fff" stroke="#1a1a1a" stroke-width="0.8"/>
<path d="M249.72 112.74L251.97 115.24L249.72 117.74L247.47 115.24Z" fill="#fff" stroke="#1a1a1a" stroke-width="0.8"/>
<path d="M305.44 120.67L307.69 123.17L305.44 125.67L303.19 123.17Z" fill="#fff" stroke="#1a1a1a" stroke-width="0.8"/>
<circle cx="200.97" cy="45.23" r="2.1" fill="#fff" stroke="#1a1a1a" stroke-width="1.0"/>
<circle cx="207.93" cy="65.04" r="2.1" fill="#fff" stroke="#1a1a1a" stroke-width="1.0"/>
<circle cx="221.86" cy="80.24" r="2.1" fill="#fff" stroke="#1a1a1a" stroke-width="1.0"/>
<circle cx="249.72" cy="96.75" r="2.1" fill="#fff" stroke="#1a1a1a" stroke-width="1.0"/>
<circle cx="305.44" cy="114.19" r="2.1" fill="#fff" stroke="#1a1a1a" stroke-width="1.0"/>
<rect x="199.02" y="35.35" width="3.9" height="3.9" fill="#fff" stroke="#1a1a1a" stroke-width="1.0"/>
<rect x="205.98" y="59.79" width="3.9" height="3.9" fill="#fff" stroke="#1a1a1a" stroke-width="1.0"/>
<rect x="219.91" y="77.36" width="3.9" height="3.9" fill="#fff" stroke="#1a1a1a" stroke-width="1.0"/>
<rect x="247.77" y="94.8" width="3.9" height="3.9" fill="#fff" stroke="#1a1a1a" stroke-width="1.0"/>
<rect x="303.49" y="121.22" width="3.9" height="3.9" fill="#fff" stroke="#1a1a1a" stroke-width="1.0"/>
<rect x="191.7" y="3.3" width="4.6" height="4.6" fill="#fff" stroke="#1a1a1a" stroke-width="1.2"/>
<path d="M358.5 5.4V138.4H502.8" fill="none" stroke="#1a1a1a" stroke-width="1.05"/>
<path d="M355.5 138.4H358.5" stroke="#1a1a1a" stroke-width="0.8"/>
<text x="354" y="141.3" text-anchor="end" font-size="8.7">0</text>
<path d="M355.5 105.15H358.5" stroke="#1a1a1a" stroke-width="0.8"/>
<text x="354" y="108.05" text-anchor="end" font-size="8.7">25</text>
<path d="M355.5 71.9H358.5" stroke="#1a1a1a" stroke-width="0.8"/>
<text x="354" y="74.8" text-anchor="end" font-size="8.7">50</text>
<path d="M355.5 38.65H358.5" stroke="#1a1a1a" stroke-width="0.8"/>
<text x="354" y="41.55" text-anchor="end" font-size="8.7">75</text>
<path d="M355.5 5.4H358.5" stroke="#1a1a1a" stroke-width="0.8"/>
<text x="354" y="8.3" text-anchor="end" font-size="8.7">100</text>
<path d="M358.5 138.4V141" stroke="#1a1a1a" stroke-width="0.8"/>
<text x="358.5" y="149.9" text-anchor="middle" font-size="8.7">0</text>
<path d="M382.55 138.4V141" stroke="#1a1a1a" stroke-width="0.8"/>
<text x="382.55" y="149.9" text-anchor="middle" font-size="8.7">0.05</text>
<path d="M406.6 138.4V141" stroke="#1a1a1a" stroke-width="0.8"/>
<text x="406.6" y="149.9" text-anchor="middle" font-size="8.7">0.1</text>
<path d="M430.65 138.4V141" stroke="#1a1a1a" stroke-width="0.8"/>
<text x="430.65" y="149.9" text-anchor="middle" font-size="8.7">0.15</text>
<path d="M454.7 138.4V141" stroke="#1a1a1a" stroke-width="0.8"/>
<text x="454.7" y="149.9" text-anchor="middle" font-size="8.7">0.2</text>
<path d="M478.75 138.4V141" stroke="#1a1a1a" stroke-width="0.8"/>
<text x="478.75" y="149.9" text-anchor="middle" font-size="8.7">0.25</text>
<path d="M502.8 138.4V141" stroke="#1a1a1a" stroke-width="0.8"/>
<text x="502.8" y="149.9" text-anchor="middle" font-size="8.7">0.3</text>
<text x="375.6" y="9.2" font-size="9.3" textLength="16.3" lengthAdjust="spacingAndGlyphs">CPT</text>
<path d="M358.5 5.4 L374.37 34.93 L390.01 58.6 L420.89 103.29 L482.02 125.1" fill="none" stroke="#1a1a1a" stroke-width="0.9" stroke-linejoin="round"/>
<path d="M358.5 5.4 L374.37 23.36 L390.01 47.3 L420.89 91.98 L482.02 130.82" fill="none" stroke="#1a1a1a" stroke-width="0.9" stroke-linejoin="round"/>
<path d="M358.5 5.4 L374.37 23.36 L390.01 25.75 L420.89 54.21 L482.02 80.68" fill="none" stroke="#1a1a1a" stroke-width="1.7" stroke-linejoin="round"/>
<path d="M374.37 31.33V38.53M372.37 31.33H376.37M372.37 38.53H376.37" stroke="#1a1a1a" stroke-width="0.8" fill="none"/>
<path d="M390.01 55V62.2M388.01 55H392.01M388.01 62.2H392.01" stroke="#1a1a1a" stroke-width="0.8" fill="none"/>
<path d="M420.89 99.69V106.89M418.89 99.69H422.89M418.89 106.89H422.89" stroke="#1a1a1a" stroke-width="0.8" fill="none"/>
<path d="M482.02 121V129.2M480.02 121H484.02M480.02 129.2H484.02" stroke="#1a1a1a" stroke-width="0.8" fill="none"/>
<path d="M374.37 19.76V26.96M372.37 19.76H376.37M372.37 26.96H376.37" stroke="#1a1a1a" stroke-width="0.8" fill="none"/>
<path d="M390.01 43.7V50.9M388.01 43.7H392.01M388.01 50.9H392.01" stroke="#1a1a1a" stroke-width="0.8" fill="none"/>
<path d="M420.89 88.38V95.58M418.89 88.38H422.89M418.89 95.58H422.89" stroke="#1a1a1a" stroke-width="0.8" fill="none"/>
<path d="M482.02 126.72V134.92M480.02 126.72H484.02M480.02 134.92H484.02" stroke="#1a1a1a" stroke-width="0.8" fill="none"/>
<path d="M374.37 19.76V26.96M372.37 19.76H376.37M372.37 26.96H376.37" stroke="#1a1a1a" stroke-width="0.8" fill="none"/>
<path d="M390.01 21.65V29.85M388.01 21.65H392.01M388.01 29.85H392.01" stroke="#1a1a1a" stroke-width="0.8" fill="none"/>
<path d="M420.89 50.61V57.81M418.89 50.61H422.89M418.89 57.81H422.89" stroke="#1a1a1a" stroke-width="0.8" fill="none"/>
<path d="M482.02 76.58V84.78M480.02 76.58H484.02M480.02 84.78H484.02" stroke="#1a1a1a" stroke-width="0.8" fill="none"/>
<circle cx="374.37" cy="34.93" r="2.1" fill="#fff" stroke="#1a1a1a" stroke-width="1.0"/>
<circle cx="390.01" cy="58.6" r="2.1" fill="#fff" stroke="#1a1a1a" stroke-width="1.0"/>
<circle cx="420.89" cy="103.29" r="2.1" fill="#fff" stroke="#1a1a1a" stroke-width="1.0"/>
<circle cx="482.02" cy="125.1" r="2.1" fill="#fff" stroke="#1a1a1a" stroke-width="1.0"/>
<circle cx="374.37" cy="23.36" r="2.1" fill="#fff" stroke="#1a1a1a" stroke-width="1.0"/>
<circle cx="390.01" cy="47.3" r="2.1" fill="#fff" stroke="#1a1a1a" stroke-width="1.0"/>
<circle cx="420.89" cy="91.98" r="2.1" fill="#fff" stroke="#1a1a1a" stroke-width="1.0"/>
<circle cx="482.02" cy="130.82" r="2.1" fill="#fff" stroke="#1a1a1a" stroke-width="1.0"/>
<rect x="372.42" y="21.41" width="3.9" height="3.9" fill="#fff" stroke="#1a1a1a" stroke-width="1.0"/>
<rect x="388.06" y="23.8" width="3.9" height="3.9" fill="#fff" stroke="#1a1a1a" stroke-width="1.0"/>
<rect x="418.94" y="52.26" width="3.9" height="3.9" fill="#fff" stroke="#1a1a1a" stroke-width="1.0"/>
<rect x="480.07" y="78.73" width="3.9" height="3.9" fill="#fff" stroke="#1a1a1a" stroke-width="1.0"/>
<rect x="356.2" y="3.1" width="4.6" height="4.6" fill="#fff" stroke="#1a1a1a" stroke-width="1.2"/>
<path d="M29.2 163.2V294.8H167.89" fill="none" stroke="#1a1a1a" stroke-width="1.05"/>
<path d="M26.2 294.8H29.2" stroke="#1a1a1a" stroke-width="0.8"/>
<text x="24.7" y="297.7" text-anchor="end" font-size="8.7">0</text>
<path d="M26.2 261.9H29.2" stroke="#1a1a1a" stroke-width="0.8"/>
<text x="24.7" y="264.8" text-anchor="end" font-size="8.7">25</text>
<path d="M26.2 229H29.2" stroke="#1a1a1a" stroke-width="0.8"/>
<text x="24.7" y="231.9" text-anchor="end" font-size="8.7">50</text>
<path d="M26.2 196.1H29.2" stroke="#1a1a1a" stroke-width="0.8"/>
<text x="24.7" y="199" text-anchor="end" font-size="8.7">75</text>
<path d="M26.2 163.2H29.2" stroke="#1a1a1a" stroke-width="0.8"/>
<text x="24.7" y="167" text-anchor="end" font-size="8.7">100</text>
<path d="M29.2 294.8V297.4" stroke="#1a1a1a" stroke-width="0.8"/>
<text x="29.9" y="306.3" text-anchor="middle" font-size="8.7">0</text>
<path d="M52.31 294.8V297.4" stroke="#1a1a1a" stroke-width="0.8"/>
<text x="53.2" y="306.3" text-anchor="middle" font-size="8.7">0.05</text>
<path d="M75.43 294.8V297.4" stroke="#1a1a1a" stroke-width="0.8"/>
<text x="74.4" y="306.3" text-anchor="middle" font-size="8.7">0.1</text>
<path d="M98.55 294.8V297.4" stroke="#1a1a1a" stroke-width="0.8"/>
<text x="97.1" y="306.3" text-anchor="middle" font-size="8.7">0.15</text>
<path d="M121.66 294.8V297.4" stroke="#1a1a1a" stroke-width="0.8"/>
<text x="121.5" y="306.3" text-anchor="middle" font-size="8.7">0.2</text>
<path d="M144.78 294.8V297.4" stroke="#1a1a1a" stroke-width="0.8"/>
<text x="142.6" y="306.3" text-anchor="middle" font-size="8.7">0.25</text>
<path d="M167.89 294.8V297.4" stroke="#1a1a1a" stroke-width="0.8"/>
<text x="167.3" y="306.3" text-anchor="middle" font-size="8.7">0.3</text>
<text x="101.9" y="167.6" font-size="9.3" textLength="26.2" lengthAdjust="spacingAndGlyphs">N Mus</text>
<path d="M29.2 163.2 L36.78 180.04 L44.46 180.04 L58.32 189.78 L88.84 204 L147.32 216.5" fill="none" stroke="#1a1a1a" stroke-width="0.8" stroke-linejoin="round"/>
<path d="M29.2 163.2 L36.78 173.33 L44.46 177.68 L58.32 185.57 L88.84 193.99 L147.32 205.05" fill="none" stroke="#1a1a1a" stroke-width="1.0" stroke-linejoin="round"/>
<path d="M29.2 163.2 L36.78 164.52 L44.46 169.78 L58.32 168.86 L88.84 171.89 L147.32 188.99" fill="none" stroke="#1a1a1a" stroke-width="1.4" stroke-linejoin="round"/>
<path d="M36.78 175.94V184.14M34.78 175.94H38.78M34.78 184.14H38.78" stroke="#1a1a1a" stroke-width="0.8" fill="none"/>
<path d="M44.46 176.44V183.64M42.46 176.44H46.46M42.46 183.64H46.46" stroke="#1a1a1a" stroke-width="0.8" fill="none"/>
<path d="M58.32 186.18V193.38M56.32 186.18H60.32M56.32 193.38H60.32" stroke="#1a1a1a" stroke-width="0.8" fill="none"/>
<path d="M88.84 199.4V208.6M86.84 199.4H90.84M86.84 208.6H90.84" stroke="#1a1a1a" stroke-width="0.8" fill="none"/>
<path d="M147.32 212.9V220.1M145.32 212.9H149.32M145.32 220.1H149.32" stroke="#1a1a1a" stroke-width="0.8" fill="none"/>
<path d="M36.78 169.73V176.93M34.78 169.73H38.78M34.78 176.93H38.78" stroke="#1a1a1a" stroke-width="0.8" fill="none"/>
<path d="M44.46 174.08V181.28M42.46 174.08H46.46M42.46 181.28H46.46" stroke="#1a1a1a" stroke-width="0.8" fill="none"/>
<path d="M58.32 181.97V189.17M56.32 181.97H60.32M56.32 189.17H60.32" stroke="#1a1a1a" stroke-width="0.8" fill="none"/>
<path d="M88.84 189.89V198.09M86.84 189.89H90.84M86.84 198.09H90.84" stroke="#1a1a1a" stroke-width="0.8" fill="none"/>
<path d="M147.32 201.45V208.65M145.32 201.45H149.32M145.32 208.65H149.32" stroke="#1a1a1a" stroke-width="0.8" fill="none"/>
<path d="M36.78 160.42V168.62M34.78 160.42H38.78M34.78 168.62H38.78" stroke="#1a1a1a" stroke-width="0.8" fill="none"/>
<path d="M44.46 165.68V173.88M42.46 165.68H46.46M42.46 173.88H46.46" stroke="#1a1a1a" stroke-width="0.8" fill="none"/>
<path d="M58.32 165.26V172.46M56.32 165.26H60.32M56.32 172.46H60.32" stroke="#1a1a1a" stroke-width="0.8" fill="none"/>
<path d="M88.84 168.29V175.49M86.84 168.29H90.84M86.84 175.49H90.84" stroke="#1a1a1a" stroke-width="0.8" fill="none"/>
<path d="M147.32 185.39V192.59M145.32 185.39H149.32M145.32 192.59H149.32" stroke="#1a1a1a" stroke-width="0.8" fill="none"/>
<path d="M36.78 177.54L39.03 180.04L36.78 182.54L34.53 180.04Z" fill="#fff" stroke="#1a1a1a" stroke-width="0.8"/>
<path d="M44.46 177.54L46.71 180.04L44.46 182.54L42.21 180.04Z" fill="#fff" stroke="#1a1a1a" stroke-width="0.8"/>
<path d="M58.32 187.28L60.57 189.78L58.32 192.28L56.07 189.78Z" fill="#fff" stroke="#1a1a1a" stroke-width="0.8"/>
<path d="M88.84 201.5L91.09 204L88.84 206.5L86.59 204Z" fill="#fff" stroke="#1a1a1a" stroke-width="0.8"/>
<path d="M147.32 214L149.57 216.5L147.32 219L145.07 216.5Z" fill="#fff" stroke="#1a1a1a" stroke-width="0.8"/>
<circle cx="36.78" cy="173.33" r="2.1" fill="#fff" stroke="#1a1a1a" stroke-width="1.0"/>
<circle cx="44.46" cy="177.68" r="2.1" fill="#fff" stroke="#1a1a1a" stroke-width="1.0"/>
<circle cx="58.32" cy="185.57" r="2.1" fill="#fff" stroke="#1a1a1a" stroke-width="1.0"/>
<circle cx="88.84" cy="193.99" r="2.1" fill="#fff" stroke="#1a1a1a" stroke-width="1.0"/>
<circle cx="147.32" cy="205.05" r="2.1" fill="#fff" stroke="#1a1a1a" stroke-width="1.0"/>
<circle cx="36.78" cy="164.52" r="2.1" fill="#fff" stroke="#1a1a1a" stroke-width="1.0"/>
<circle cx="44.46" cy="169.78" r="2.1" fill="#fff" stroke="#1a1a1a" stroke-width="1.0"/>
<circle cx="58.32" cy="168.86" r="2.1" fill="#fff" stroke="#1a1a1a" stroke-width="1.0"/>
<circle cx="88.84" cy="171.89" r="2.1" fill="#fff" stroke="#1a1a1a" stroke-width="1.0"/>
<rect x="145.37" y="187.04" width="3.9" height="3.9" fill="#fff" stroke="#1a1a1a" stroke-width="1.0"/>
<circle cx="29.2" cy="163.2" r="2.4" fill="#fff" stroke="#1a1a1a" stroke-width="1.3"/>
<path d="M197.8 162.6V295.9H333.3" fill="none" stroke="#1a1a1a" stroke-width="1.05"/>
<path d="M194.8 295.9H197.8" stroke="#1a1a1a" stroke-width="0.8"/>
<text x="193.3" y="298.8" text-anchor="end" font-size="8.7">0</text>
<path d="M194.8 262.57H197.8" stroke="#1a1a1a" stroke-width="0.8"/>
<text x="193.3" y="265.47" text-anchor="end" font-size="8.7">25</text>
<path d="M194.8 229.25H197.8" stroke="#1a1a1a" stroke-width="0.8"/>
<text x="193.3" y="232.15" text-anchor="end" font-size="8.7">50</text>
<path d="M194.8 195.93H197.8" stroke="#1a1a1a" stroke-width="0.8"/>
<text x="193.3" y="198.83" text-anchor="end" font-size="8.7">75</text>
<path d="M194.8 162.6H197.8" stroke="#1a1a1a" stroke-width="0.8"/>
<text x="193.3" y="165.5" text-anchor="end" font-size="8.7">100</text>
<path d="M197.8 295.9V298.5" stroke="#1a1a1a" stroke-width="0.8"/>
<text x="197.8" y="307.4" text-anchor="middle" font-size="8.7">0</text>
<path d="M224.9 295.9V298.5" stroke="#1a1a1a" stroke-width="0.8"/>
<text x="224.9" y="307.4" text-anchor="middle" font-size="8.7">5</text>
<path d="M252 295.9V298.5" stroke="#1a1a1a" stroke-width="0.8"/>
<text x="252" y="307.4" text-anchor="middle" font-size="8.7">10</text>
<path d="M279.1 295.9V298.5" stroke="#1a1a1a" stroke-width="0.8"/>
<text x="279.1" y="307.4" text-anchor="middle" font-size="8.7">15</text>
<path d="M306.2 295.9V298.5" stroke="#1a1a1a" stroke-width="0.8"/>
<text x="306.2" y="307.4" text-anchor="middle" font-size="8.7">20</text>
<path d="M333.3 295.9V298.5" stroke="#1a1a1a" stroke-width="0.8"/>
<text x="333.3" y="307.4" text-anchor="middle" font-size="8.7">25</text>
<text x="209.8" y="166.5" font-size="9.3" textLength="20.3" lengthAdjust="spacingAndGlyphs">Taxol</text>
<path d="M197.8 162.6 L202.68 179.4 L211.35 184.19 L224.9 189.26 L252 193.26 L306.2 270.04" fill="none" stroke="#1a1a1a" stroke-width="0.8" stroke-linejoin="round"/>
<path d="M197.8 162.6 L202.68 183.53 L211.35 184.19 L224.9 189.26 L252 222.58 L306.2 247.25" fill="none" stroke="#1a1a1a" stroke-width="1.0" stroke-linejoin="round"/>
<path d="M197.8 162.6 L202.68 191.13 L211.35 190.19 L224.9 189.26 L252 200.46 L306.2 238.05" fill="none" stroke="#1a1a1a" stroke-width="1.5" stroke-linejoin="round"/>
<path d="M202.68 175.8V183M200.68 175.8H204.68M200.68 183H204.68" stroke="#1a1a1a" stroke-width="0.8" fill="none"/>
<path d="M211.35 180.59V187.79M209.35 180.59H213.35M209.35 187.79H213.35" stroke="#1a1a1a" stroke-width="0.8" fill="none"/>
<path d="M224.9 185.66V192.86M222.9 185.66H226.9M222.9 192.86H226.9" stroke="#1a1a1a" stroke-width="0.8" fill="none"/>
<path d="M252 189.66V196.86M250 189.66H254M250 196.86H254" stroke="#1a1a1a" stroke-width="0.8" fill="none"/>
<path d="M306.2 266.44V273.64M304.2 266.44H308.2M304.2 273.64H308.2" stroke="#1a1a1a" stroke-width="0.8" fill="none"/>
<path d="M202.68 179.93V187.13M200.68 179.93H204.68M200.68 187.13H204.68" stroke="#1a1a1a" stroke-width="0.8" fill="none"/>
<path d="M211.35 180.59V187.79M209.35 180.59H213.35M209.35 187.79H213.35" stroke="#1a1a1a" stroke-width="0.8" fill="none"/>
<path d="M224.9 185.66V192.86M222.9 185.66H226.9M222.9 192.86H226.9" stroke="#1a1a1a" stroke-width="0.8" fill="none"/>
<path d="M252 218.98V226.18M250 218.98H254M250 226.18H254" stroke="#1a1a1a" stroke-width="0.8" fill="none"/>
<path d="M306.2 243.65V250.85M304.2 243.65H308.2M304.2 250.85H308.2" stroke="#1a1a1a" stroke-width="0.8" fill="none"/>
<path d="M202.68 187.53V194.73M200.68 187.53H204.68M200.68 194.73H204.68" stroke="#1a1a1a" stroke-width="0.8" fill="none"/>
<path d="M211.35 186.59V193.79M209.35 186.59H213.35M209.35 193.79H213.35" stroke="#1a1a1a" stroke-width="0.8" fill="none"/>
<path d="M224.9 185.66V192.86M222.9 185.66H226.9M222.9 192.86H226.9" stroke="#1a1a1a" stroke-width="0.8" fill="none"/>
<path d="M252 196.86V204.06M250 196.86H254M250 204.06H254" stroke="#1a1a1a" stroke-width="0.8" fill="none"/>
<path d="M306.2 234.45V241.65M304.2 234.45H308.2M304.2 241.65H308.2" stroke="#1a1a1a" stroke-width="0.8" fill="none"/>
<path d="M202.68 176.9L204.93 179.4L202.68 181.9L200.43 179.4Z" fill="#fff" stroke="#1a1a1a" stroke-width="0.8"/>
<path d="M211.35 181.69L213.6 184.19L211.35 186.69L209.1 184.19Z" fill="#fff" stroke="#1a1a1a" stroke-width="0.8"/>
<path d="M224.9 186.76L227.15 189.26L224.9 191.76L222.65 189.26Z" fill="#fff" stroke="#1a1a1a" stroke-width="0.8"/>
<path d="M252 190.76L254.25 193.26L252 195.76L249.75 193.26Z" fill="#fff" stroke="#1a1a1a" stroke-width="0.8"/>
<path d="M306.2 267.54L308.45 270.04L306.2 272.54L303.95 270.04Z" fill="#fff" stroke="#1a1a1a" stroke-width="0.8"/>
<circle cx="202.68" cy="183.53" r="2.1" fill="#fff" stroke="#1a1a1a" stroke-width="1.0"/>
<circle cx="211.35" cy="184.19" r="2.1" fill="#fff" stroke="#1a1a1a" stroke-width="1.0"/>
<circle cx="224.9" cy="189.26" r="2.1" fill="#fff" stroke="#1a1a1a" stroke-width="1.0"/>
<circle cx="252" cy="222.58" r="2.1" fill="#fff" stroke="#1a1a1a" stroke-width="1.0"/>
<circle cx="306.2" cy="247.25" r="2.1" fill="#fff" stroke="#1a1a1a" stroke-width="1.0"/>
<circle cx="202.68" cy="191.13" r="2.1" fill="#fff" stroke="#1a1a1a" stroke-width="1.0"/>
<circle cx="211.35" cy="190.19" r="2.1" fill="#fff" stroke="#1a1a1a" stroke-width="1.0"/>
<circle cx="224.9" cy="189.26" r="2.1" fill="#fff" stroke="#1a1a1a" stroke-width="1.0"/>
<circle cx="252" cy="200.46" r="2.1" fill="#fff" stroke="#1a1a1a" stroke-width="1.0"/>
<circle cx="306.2" cy="238.05" r="2.1" fill="#fff" stroke="#1a1a1a" stroke-width="1.0"/>
<circle cx="197.8" cy="162.6" r="2.4" fill="#fff" stroke="#1a1a1a" stroke-width="1.3"/>
<path d="M360.2 163.8V296.6H507.8" fill="none" stroke="#1a1a1a" stroke-width="1.05"/>
<path d="M357.2 296.6H360.2" stroke="#1a1a1a" stroke-width="0.8"/>
<text x="355.7" y="299.5" text-anchor="end" font-size="8.7">0</text>
<path d="M357.2 263.4H360.2" stroke="#1a1a1a" stroke-width="0.8"/>
<text x="355.7" y="266.3" text-anchor="end" font-size="8.7">25</text>
<path d="M357.2 230.2H360.2" stroke="#1a1a1a" stroke-width="0.8"/>
<text x="355.7" y="233.1" text-anchor="end" font-size="8.7">50</text>
<path d="M357.2 197H360.2" stroke="#1a1a1a" stroke-width="0.8"/>
<text x="355.7" y="199.9" text-anchor="end" font-size="8.7">75</text>
<path d="M357.2 163.8H360.2" stroke="#1a1a1a" stroke-width="0.8"/>
<text x="355.7" y="167.4" text-anchor="end" font-size="8.7">100</text>
<path d="M360.2 296.6V299.2" stroke="#1a1a1a" stroke-width="0.8"/>
<text x="360.2" y="308.1" text-anchor="middle" font-size="8.7">0</text>
<path d="M384.8 296.6V299.2" stroke="#1a1a1a" stroke-width="0.8"/>
<text x="384.8" y="308.1" text-anchor="middle" font-size="8.7">0.1</text>
<path d="M409.4 296.6V299.2" stroke="#1a1a1a" stroke-width="0.8"/>
<text x="409.4" y="308.1" text-anchor="middle" font-size="8.7">0.2</text>
<path d="M434 296.6V299.2" stroke="#1a1a1a" stroke-width="0.8"/>
<text x="434" y="308.1" text-anchor="middle" font-size="8.7">0.3</text>
<path d="M458.6 296.6V299.2" stroke="#1a1a1a" stroke-width="0.8"/>
<text x="458.6" y="308.1" text-anchor="middle" font-size="8.7">0.4</text>
<path d="M483.2 296.6V299.2" stroke="#1a1a1a" stroke-width="0.8"/>
<text x="483.2" y="308.1" text-anchor="middle" font-size="8.7">0.5</text>
<path d="M507.8 296.6V299.2" stroke="#1a1a1a" stroke-width="0.8"/>
<text x="507.8" y="308.1" text-anchor="middle" font-size="8.7">0.6</text>
<text x="384.4" y="167.9" font-size="9.3" textLength="19.7" lengthAdjust="spacingAndGlyphs">VP16</text>
<path d="M360.2 163.8 L368.56 206.3 L376.93 216.92 L392.18 229.54 L424.16 253.44 L486.89 275.35" fill="none" stroke="#1a1a1a" stroke-width="0.8" stroke-linejoin="round"/>
<path d="M360.2 163.8 L368.56 165.53 L376.93 169.24 L392.18 178.94 L424.16 183.59 L486.89 199.66" fill="none" stroke="#1a1a1a" stroke-width="1.0" stroke-linejoin="round"/>
<path d="M360.2 163.8 L368.56 175.49 L376.93 175.75 L392.18 185.05 L424.16 195.14 L486.89 198.99" fill="none" stroke="#1a1a1a" stroke-width="1.5" stroke-linejoin="round"/>
<path d="M368.56 202.7V209.9M366.56 202.7H370.56M366.56 209.9H370.56" stroke="#1a1a1a" stroke-width="0.8" fill="none"/>
<path d="M376.93 213.32V220.52M374.93 213.32H378.93M374.93 220.52H378.93" stroke="#1a1a1a" stroke-width="0.8" fill="none"/>
<path d="M392.18 225.94V233.14M390.18 225.94H394.18M390.18 233.14H394.18" stroke="#1a1a1a" stroke-width="0.8" fill="none"/>
<path d="M424.16 249.84V257.04M422.16 249.84H426.16M422.16 257.04H426.16" stroke="#1a1a1a" stroke-width="0.8" fill="none"/>
<path d="M486.89 271.75V278.95M484.89 271.75H488.89M484.89 278.95H488.89" stroke="#1a1a1a" stroke-width="0.8" fill="none"/>
<path d="M368.56 161.93V169.13M366.56 161.93H370.56M366.56 169.13H370.56" stroke="#1a1a1a" stroke-width="0.8" fill="none"/>
<path d="M376.93 165.64V172.84M374.93 165.64H378.93M374.93 172.84H378.93" stroke="#1a1a1a" stroke-width="0.8" fill="none"/>
<path d="M392.18 175.34V182.54M390.18 175.34H394.18M390.18 182.54H394.18" stroke="#1a1a1a" stroke-width="0.8" fill="none"/>
<path d="M424.16 179.99V187.19M422.16 179.99H426.16M422.16 187.19H426.16" stroke="#1a1a1a" stroke-width="0.8" fill="none"/>
<path d="M486.89 196.06V203.26M484.89 196.06H488.89M484.89 203.26H488.89" stroke="#1a1a1a" stroke-width="0.8" fill="none"/>
<path d="M368.56 171.89V179.09M366.56 171.89H370.56M366.56 179.09H370.56" stroke="#1a1a1a" stroke-width="0.8" fill="none"/>
<path d="M376.93 172.15V179.35M374.93 172.15H378.93M374.93 179.35H378.93" stroke="#1a1a1a" stroke-width="0.8" fill="none"/>
<path d="M392.18 181.45V188.65M390.18 181.45H394.18M390.18 188.65H394.18" stroke="#1a1a1a" stroke-width="0.8" fill="none"/>
<path d="M424.16 191.54V198.74M422.16 191.54H426.16M422.16 198.74H426.16" stroke="#1a1a1a" stroke-width="0.8" fill="none"/>
<path d="M486.89 195.39V202.59M484.89 195.39H488.89M484.89 202.59H488.89" stroke="#1a1a1a" stroke-width="0.8" fill="none"/>
<path d="M368.56 203.8L370.81 206.3L368.56 208.8L366.31 206.3Z" fill="#fff" stroke="#1a1a1a" stroke-width="0.8"/>
<path d="M376.93 214.42L379.18 216.92L376.93 219.42L374.68 216.92Z" fill="#fff" stroke="#1a1a1a" stroke-width="0.8"/>
<path d="M392.18 227.04L394.43 229.54L392.18 232.04L389.93 229.54Z" fill="#fff" stroke="#1a1a1a" stroke-width="0.8"/>
<path d="M424.16 250.94L426.41 253.44L424.16 255.94L421.91 253.44Z" fill="#fff" stroke="#1a1a1a" stroke-width="0.8"/>
<path d="M486.89 272.85L489.14 275.35L486.89 277.85L484.64 275.35Z" fill="#fff" stroke="#1a1a1a" stroke-width="0.8"/>
<circle cx="368.56" cy="165.53" r="2.1" fill="#fff" stroke="#1a1a1a" stroke-width="1.0"/>
<circle cx="376.93" cy="169.24" r="2.1" fill="#fff" stroke="#1a1a1a" stroke-width="1.0"/>
<circle cx="392.18" cy="178.94" r="2.1" fill="#fff" stroke="#1a1a1a" stroke-width="1.0"/>
<circle cx="424.16" cy="183.59" r="2.1" fill="#fff" stroke="#1a1a1a" stroke-width="1.0"/>
<circle cx="486.89" cy="199.66" r="2.1" fill="#fff" stroke="#1a1a1a" stroke-width="1.0"/>
<circle cx="368.56" cy="175.49" r="2.1" fill="#fff" stroke="#1a1a1a" stroke-width="1.0"/>
<circle cx="376.93" cy="175.75" r="2.1" fill="#fff" stroke="#1a1a1a" stroke-width="1.0"/>
<circle cx="392.18" cy="185.05" r="2.1" fill="#fff" stroke="#1a1a1a" stroke-width="1.0"/>
<circle cx="424.16" cy="195.14" r="2.1" fill="#fff" stroke="#1a1a1a" stroke-width="1.0"/>
<circle cx="486.89" cy="198.99" r="2.1" fill="#fff" stroke="#1a1a1a" stroke-width="1.0"/>
<circle cx="360.2" cy="163.8" r="2.4" fill="#fff" stroke="#1a1a1a" stroke-width="1.3"/>
<text transform="translate(7.2,156.5) rotate(-90)" text-anchor="middle" font-size="9.9">% VIABLE CELLS</text>
<text x="268.6" y="325.9" text-anchor="middle" font-size="9.4">Concentration (µM)</text>
</g>
</svg></body></html>
